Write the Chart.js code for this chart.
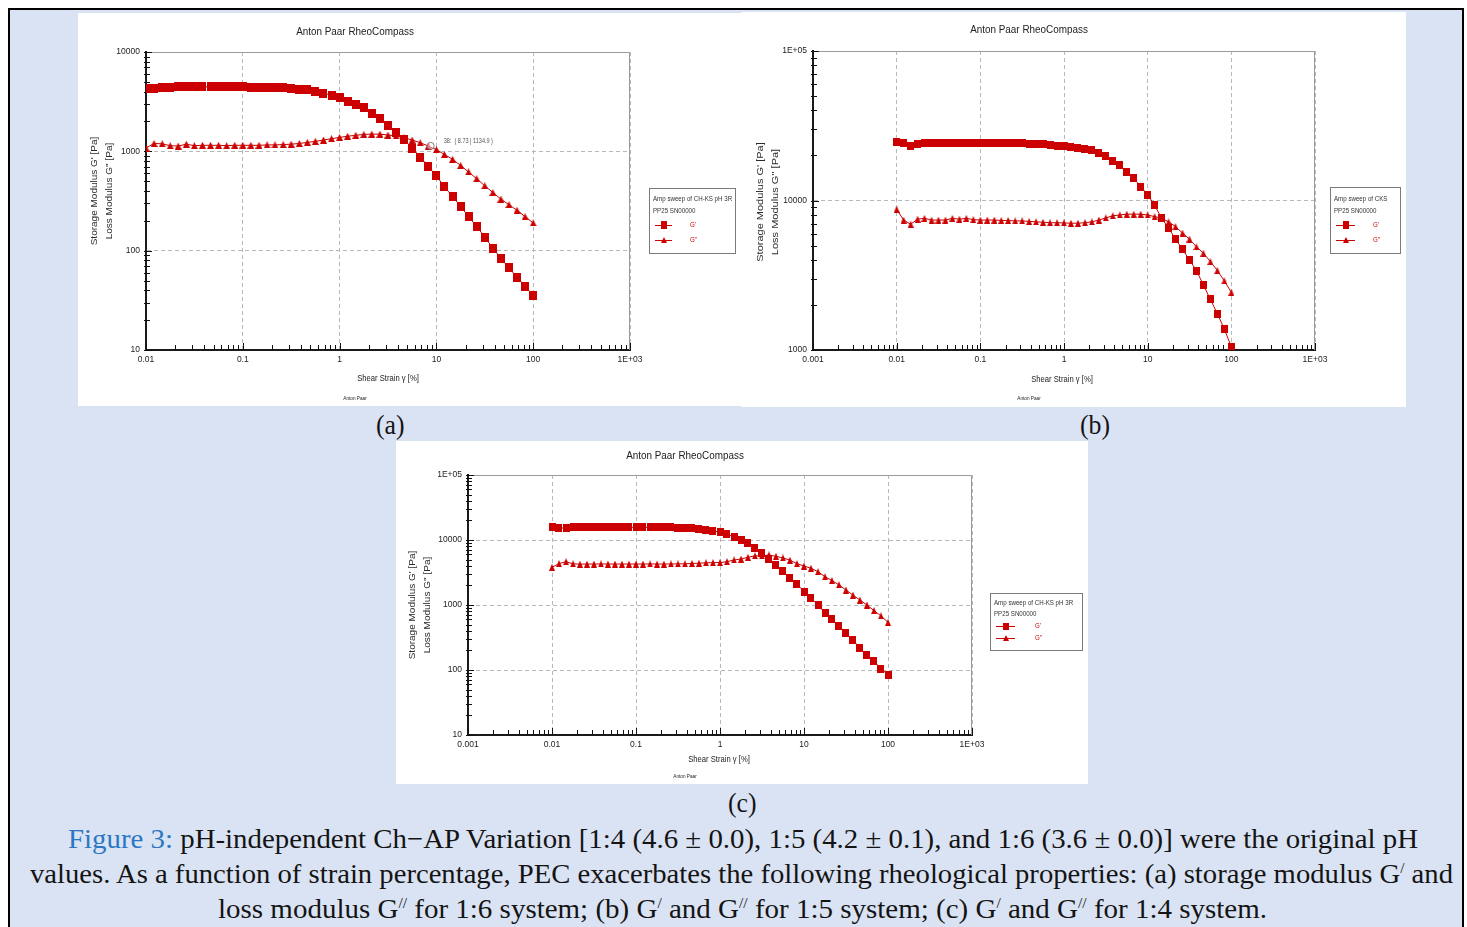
<!DOCTYPE html>
<html>
<head>
<meta charset="utf-8">
<script src="https://cdn.jsdelivr.net/npm/chart.js@4.4.0/dist/chart.umd.min.js"></script>
<style>
body { margin: 0; width: 1467px; height: 927px; background: #fff; overflow: hidden; position: relative; font-family: "Liberation Serif", "DejaVu Serif", serif; }
#frame { position: absolute; left: 8px; top: 8px; width: 1452px; height: 940px; border: 2px solid #000; background: #dae3f3; }
.panel { position: absolute; background: #fff; }
.panel canvas { display: block; }
.lab, .cap { position: absolute; white-space: nowrap; font-size: 28px; line-height: 30px; color: #141414; }
.cap sup { font-size: 15px; line-height: 1; vertical-align: 10px; }
</style>
</head>
<body>
<div id="frame"></div>
<div class="panel" style="left:78px;top:13px;width:664px;height:393px"><canvas id="chartA"></canvas></div>
<div class="panel" style="left:742px;top:12px;width:664px;height:395px"><canvas id="chartB"></canvas></div>
<div class="panel" style="left:396px;top:441px;width:692px;height:343px"><canvas id="chartC"></canvas></div>

<div class="lab" id="labA">(a)</div>
<div class="lab" id="labB">(b)</div>
<div class="lab" id="labC">(c)</div>
<div class="cap" id="cap1"><span style="color:#2a78c2">Figure 3:</span> pH-independent Ch−AP Variation [1:4 (4.6 ± 0.0), 1:5 (4.2 ± 0.1), and 1:6 (3.6 ± 0.0)] were the original pH</div>
<div class="cap" id="cap2">values. As a function of strain percentage, PEC exacerbates the following rheological properties: (a) storage modulus G<sup>/</sup> and</div>
<div class="cap" id="cap3">loss modulus G<sup>//</sup> for 1:6 system; (b) G<sup>/</sup> and G<sup>//</sup> for 1:5 system; (c) G<sup>/</sup> and G<sup>//</sup> for 1:4 system.</div>

<script>
// shear strain points [%], shared by all three sweeps
const strain = [0.01, 0.0121, 0.0147, 0.0178, 0.0215, 0.0261, 0.0316, 0.0383, 0.0464, 0.0562, 0.0681, 0.0825,
  0.1, 0.121, 0.147, 0.178, 0.215, 0.261, 0.316, 0.383, 0.464, 0.562, 0.681, 0.825,
  1, 1.21, 1.47, 1.78, 2.15, 2.61, 3.16, 3.83, 4.64, 5.62, 6.81, 8.25,
  10, 12.1, 14.7, 17.8, 21.5, 26.1, 31.6, 38.3, 46.4, 56.2, 68.1, 82.5, 100];

// (a) 1:6 system
const storageA = [4250, 4300, 4380, 4420, 4450, 4450, 4450, 4450, 4450, 4450, 4450, 4450,
  4450, 4440, 4430, 4420, 4400, 4370, 4300, 4240, 4150, 3990, 3840, 3690,
  3470, 3210, 2980, 2760, 2420, 2120, 1830, 1550, 1310, 1080, 875, 705,
  565, 440, 350, 280, 220, 175, 137, 106, 84, 67, 54, 44, 35];
const lossA = [1080, 1200, 1190, 1140, 1130, 1180, 1140, 1150, 1150, 1150, 1140, 1150,
  1150, 1150, 1150, 1160, 1160, 1170, 1180, 1200, 1230, 1260, 1300, 1340,
  1380, 1420, 1450, 1480, 1490, 1490, 1460, 1430, 1370, 1300, 1220, 1130,
  1040, 930, 830, 720, 620, 530, 450, 385, 330, 290, 255, 220, 190];
const cursorA = { n: 38, x: 8.73, y: 1134.9 };

// (b) 1:5 system
const storageB = [24800, 24100, 23200, 24000, 24100, 24200, 24200, 24300, 24300, 24400, 24400, 24400,
  24400, 24400, 24300, 24300, 24200, 24200, 24100, 24000, 23900, 23700, 23500, 23200,
  23000, 22800, 22600, 22200, 21700, 20900, 19700, 18500, 17300, 15600, 14100, 12400,
  10900, 9300, 7600, 6540, 5520, 4720, 4000, 3400, 2720, 2180, 1750, 1380, 1050];
const lossB = [8740, 7400, 6940, 7500, 7600, 7400, 7400, 7400, 7600, 7500, 7600, 7450,
  7400, 7400, 7400, 7350, 7350, 7300, 7300, 7250, 7200, 7150, 7100, 7100,
  7080, 7050, 7050, 7100, 7200, 7400, 7650, 7900, 8000, 8100, 8100, 8100,
  8000, 7800, 7600, 7200, 6700, 6050, 5520, 4900, 4440, 3900, 3400, 2900, 2430];

// (c) 1:4 system
const storageC = [16000, 15200, 15400, 15700, 15700, 15700, 15700, 15700, 15700, 15700, 15700, 15700,
  15700, 15700, 15700, 15700, 15700, 15600, 15500, 15400, 15200, 14800, 14300, 13900,
  13100, 12200, 11200, 10000, 8900, 7600, 6200, 5100, 4100, 3300, 2630, 2100,
  1610, 1270, 1000, 750, 600, 480, 370, 290, 215, 170, 136, 105, 84];
const lossC = [3800, 4330, 4640, 4300, 4250, 4270, 4270, 4280, 4270, 4270, 4260, 4270,
  4270, 4270, 4280, 4270, 4270, 4280, 4290, 4300, 4350, 4400, 4450, 4480,
  4500, 4640, 4930, 5100, 5420, 5700, 5700, 5880, 5600, 5300, 4900, 4330,
  3980, 3670, 3250, 2720, 2380, 2040, 1700, 1420, 1190, 1000, 820, 680, 540];

// tick labels
const xTicksA = [0.01, 0.1, 1, 10, 100, 1000];
const xLabelsA = ['0.01', '0.1', '1', '10', '100', '1E+03'];
const xTicksBC = [0.001, 0.01, 0.1, 1, 10, 100, 1000];
const xLabelsBC = ['0.001', '0.01', '0.1', '1', '10', '100', '1E+03'];
const yTicksA = [10, 100, 1000, 10000];
const yLabelsA = ['10', '100', '1000', '10000'];
const yTicksB = [1000, 10000, 100000];
const yLabelsB = ['1000', '10000', '1E+05'];
const yTicksC = [10, 100, 1000, 10000, 100000];
const yLabelsC = ['10', '100', '1000', '10000', '1E+05'];

const RED = '#cc0000';
const FONT = '"Liberation Sans", Arial, sans-serif';

function marker(kind, w, h) {
  const c = document.createElement('canvas');
  c.width = w; c.height = h;
  const g = c.getContext('2d');
  g.fillStyle = RED;
  if (kind === 'sq') {
    g.fillRect(0, 0, w, h);
  } else {
    g.beginPath(); g.moveTo(w / 2, 0); g.lineTo(w, h); g.lineTo(0, h); g.closePath(); g.fill();
  }
  return c;
}

function text(ctx, s, x, y, size, o) {
  o = o || {};
  ctx.save();
  ctx.font = (o.bold ? 'bold ' : '') + size + 'px ' + FONT;
  ctx.fillStyle = o.color || '#222';
  ctx.textAlign = o.align || 'center';
  ctx.textBaseline = 'middle';
  ctx.translate(x, y);
  if (o.rot) ctx.rotate(o.rot);
  ctx.scale(o.sx || 1, o.sy || 1);
  ctx.fillText(s, 0, 0);
  ctx.restore();
}

function logTicks(min, max) {
  const out = [];
  for (let e = Math.floor(Math.log10(min)); e <= Math.ceil(Math.log10(max)); e++) {
    for (let m = 1; m <= 9; m++) {
      const v = m * Math.pow(10, e);
      if (v >= min * 0.999 && v <= max * 1.001) out.push({ value: v, major: m === 1 });
    }
  }
  return out;
}

function tickLabel(v, vals, labels) {
  const i = vals.findIndex(t => Math.abs(Math.log10(t) - Math.log10(v)) < 1e-6);
  return i < 0 ? '' : labels[i];
}

function axis(min, max, vals, labels, isX) {
  return {
    type: 'logarithmic', min: min, max: max,
    afterFit: s => { if (isX) s.height = 20; else s.width = 30; },
    afterBuildTicks: s => { s.ticks = logTicks(min, max); },
    ticks: {
      autoSkip: false, maxRotation: 0, minRotation: 0, padding: isX ? 5 : 6,
      color: '#222', font: { family: FONT, size: 8.5 },
      callback: v => tickLabel(v, vals, labels)
    },
    grid: { drawTicks: false, lineWidth: 1, color: c => (c.tick && c.tick.major) ? '#b8b8b8' : 'rgba(0,0,0,0)' },
    border: { display: true, color: '#1a1a1a', width: 2, dash: [4, 3] }
  };
}

function decor(p) {
  return {
    id: 'decor',
    beforeDatasetsDraw(chart) {
      const ctx = chart.ctx, a = chart.chartArea, x = chart.scales.x, y = chart.scales.y;
      ctx.save();
      ctx.strokeStyle = '#9a9a9a'; ctx.lineWidth = 1;
      ctx.beginPath();
      ctx.moveTo(a.left, a.top + 0.5); ctx.lineTo(a.right - 0.5, a.top + 0.5); ctx.lineTo(a.right - 0.5, a.bottom);
      ctx.stroke();
      ctx.strokeStyle = '#111';
      ctx.beginPath();
      x.ticks.forEach(t => {
        const px = Math.round(x.getPixelForValue(t.value)) + 0.5;
        ctx.moveTo(px, a.bottom); ctx.lineTo(px, a.bottom - (t.major ? 7 : 5));
      });
      y.ticks.forEach(t => {
        const py = Math.round(y.getPixelForValue(t.value)) + 0.5;
        ctx.moveTo(a.left - 2, py); ctx.lineTo(a.left + (t.major ? 6 : 4), py);
      });
      ctx.stroke();
      ctx.restore();
    },
    afterDraw(chart) {
      const ctx = chart.ctx;
      text(ctx, 'Anton Paar RheoCompass', p.title[0], p.title[1], 11.5, { sx: 0.86 });
      text(ctx, 'Shear Strain \u03b3 [%]', p.xTitle[0], p.xTitle[1], 9, { sx: 0.85 });
      text(ctx, 'Anton Paar', p.footer[0], p.footer[1], 5.5, { sx: 0.85 });
      text(ctx, "Storage Modulus G' [Pa]", p.yTitle[0], p.yTitle[2], p.yTitle[3], { rot: -Math.PI / 2, sy: 0.9, color: '#2a2a2a' });
      text(ctx, "Loss Modulus G'' [Pa]", p.yTitle[1], p.yTitle[2], p.yTitle[3], { rot: -Math.PI / 2, sy: 0.9, color: '#2a2a2a' });

      // legend box
      const L = p.legend;
      ctx.save();
      ctx.fillStyle = '#fff'; ctx.strokeStyle = '#7a7a7a'; ctx.lineWidth = 1;
      ctx.fillRect(L.box[0], L.box[1], L.box[2], L.box[3]);
      ctx.strokeRect(L.box[0] + 0.5, L.box[1] + 0.5, L.box[2], L.box[3]);
      ctx.restore();
      text(ctx, L.head, L.box[0] + 4, L.lines[0], 7, { align: 'left', sx: 0.88, color: '#333' });
      text(ctx, 'PP25 SN00000', L.box[0] + 4, L.lines[1], 7, { align: 'left', sx: 0.88, color: '#333' });
      [[p.legSq, "G'", L.rows[0]], [p.legTri, "G''", L.rows[1]]].forEach(r => {
        ctx.save();
        ctx.strokeStyle = RED; ctx.lineWidth = 1;
        ctx.beginPath(); ctx.moveTo(L.line[0], r[2] + 0.5); ctx.lineTo(L.line[1], r[2] + 0.5); ctx.stroke();
        const mx = Math.round((L.line[0] + L.line[1]) / 2 - r[0].width / 2);
        ctx.drawImage(r[0], mx, Math.round(r[2] - r[0].height / 2));
        ctx.restore();
        text(ctx, r[1], L.label, r[2], 7, { align: 'left', color: RED, sx: 0.88 });
      });

      if (p.cursor) {
        const cx = chart.scales.x.getPixelForValue(p.cursor.x);
        const cy = chart.scales.y.getPixelForValue(p.cursor.y);
        text(ctx, p.cursor.n + ':  ( ' + p.cursor.x + ' | ' + p.cursor.y + ' )', cx + 13, cy - 5, 6.5, { align: 'left', color: '#555', sx: 0.85 });
      }
    }
  };
}

function build(id, p) {
  const datasets = [
    { label: "G'", order: 1, data: strain.map((s, i) => ({ x: s, y: p.storage[i] })),
      borderColor: RED, borderWidth: 1, pointStyle: p.sq, pointRadius: 4, tension: 0 },
    { label: "G''", order: 2, data: strain.map((s, i) => ({ x: s, y: p.loss[i] })),
      borderColor: RED, borderWidth: 1, pointStyle: p.tri, pointRadius: 4, tension: 0 }
  ];
  if (p.cursor) {
    datasets.push({ label: 'cursor', order: 0, data: [{ x: p.cursor.x, y: p.cursor.y }], showLine: false,
      pointStyle: 'circle', pointRadius: 3.5, pointBorderWidth: 1, pointBorderColor: '#7d7d7d',
      pointBackgroundColor: 'rgba(255,255,255,0.5)' });
  }
  return new Chart(document.getElementById(id), {
    type: 'line',
    data: { datasets: datasets },
    options: {
      responsive: true, maintainAspectRatio: false, animation: false,
      layout: { padding: p.pad },
      plugins: { legend: { display: false }, tooltip: { enabled: false } },
      scales: {
        x: axis(p.xMin, 1000, p.xTicks, p.xLabels, true),
        y: axis(p.yMin, p.yMax, p.yTicks, p.yLabels, false)
      }
    },
    plugins: [decor(p)]
  });
}

build('chartA', {
  storage: storageA, loss: lossA, cursor: cursorA,
  sq: marker('sq', 8, 9), tri: marker('tri', 7, 7), legSq: marker('sq', 6, 8), legTri: marker('tri', 6, 6),
  xMin: 0.01, xTicks: xTicksA, xLabels: xLabelsA,
  yMin: 10, yMax: 10000, yTicks: yTicksA, yLabels: yLabelsA,
  pad: { left: 38, right: 112, top: 39, bottom: 36 },
  title: [277, 19], xTitle: [310, 366], footer: [277, 385], yTitle: [17, 32, 178, 10],
  legend: { box: [571, 175, 86, 65], head: 'Amp sweep of CH-KS pH 3R', lines: [186, 198], rows: [212, 227], line: [577, 594], label: 612 }
});

build('chartB', {
  storage: storageB, loss: lossB,
  sq: marker('sq', 7, 8), tri: marker('tri', 6, 7), legSq: marker('sq', 6, 8), legTri: marker('tri', 6, 6),
  xMin: 0.001, xTicks: xTicksBC, xLabels: xLabelsBC,
  yMin: 1000, yMax: 100000, yTicks: yTicksB, yLabels: yLabelsB,
  pad: { left: 41, right: 91, top: 39, bottom: 37 },
  title: [287, 18], xTitle: [320, 368], footer: [287, 386], yTitle: [18, 33, 190, 11],
  legend: { box: [588, 175, 70, 66], head: 'Amp sweep of CKS', lines: [187, 199], rows: [213, 228], line: [594, 613], label: 631 }
});

build('chartC', {
  storage: storageC, loss: lossC,
  sq: marker('sq', 7, 8), tri: marker('tri', 6, 7), legSq: marker('sq', 6, 7), legTri: marker('tri', 6, 6),
  xMin: 0.001, xTicks: xTicksBC, xLabels: xLabelsBC,
  yMin: 10, yMax: 100000, yTicks: yTicksC, yLabels: yLabelsC,
  pad: { left: 42, right: 116, top: 34, bottom: 29 },
  title: [289, 15], xTitle: [323, 319], footer: [289, 335], yTitle: [17, 32, 164, 10],
  legend: { box: [594, 152, 92, 57], head: 'Amp sweep of CH-KS pH 3R', lines: [162, 173], rows: [185, 197], line: [600, 619], label: 639 }
});

// panel letters and caption: centre each line, stretch to the measured width
function place(id, cx, cy, target) {
  const el = document.getElementById(id);
  const w = el.getBoundingClientRect().width;
  const s = target ? target / w : 0.92;
  el.style.transformOrigin = '0 0';
  el.style.transform = 'scaleX(' + s + ')';
  el.style.left = (cx - w * s / 2) + 'px';
  el.style.top = (cy - 16) + 'px';
}
place('labA', 390, 426);
place('labB', 1095, 426);
place('labC', 742, 804);
place('cap1', 743, 840, 1350);
place('cap2', 741.5, 875, 1423);
place('cap3', 742.5, 910, 1049);
</script>
</body>
</html>
